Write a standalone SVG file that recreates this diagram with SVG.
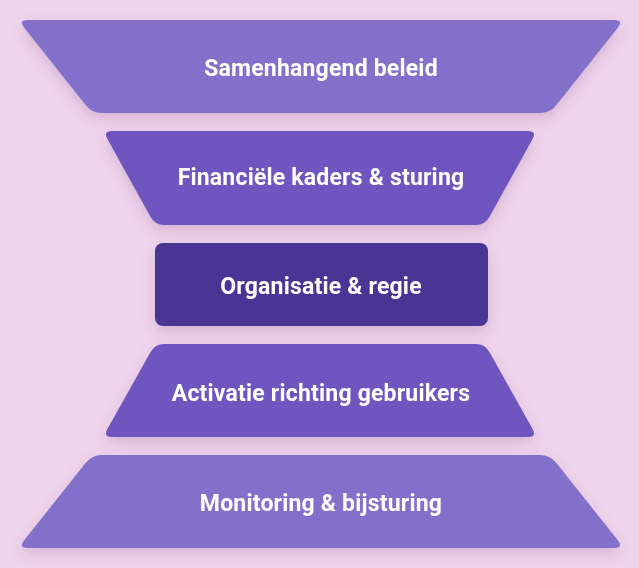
<svg xmlns="http://www.w3.org/2000/svg" width="639" height="568" viewBox="0 0 639 568">
<defs>
<filter id="sh" x="-20%" y="-30%" width="140%" height="170%">
<feDropShadow dx="0" dy="6" stdDeviation="7" flood-color="#7a3f80" flood-opacity="0.22"/>
</filter>
<style>
.t{font-family:Roboto,"Liberation Sans",sans-serif;font-weight:700;font-size:23px;letter-spacing:0.2px;fill:#ffffff;text-anchor:middle}
.l{fill:#8370CB}
.m{fill:#6E55C0}
.d{fill:#4A3494}
</style>
</defs>
<rect width="639" height="568" fill="#EFD5EC"/>
<g id="connectors"/>
<g id="n1" filter="url(#sh)">
<path class="l" d="M28,20 L614,20 Q624,20 617.8,27.8 L556.2,105.2 Q550,113 540,113 L102,113 Q92,113 85.8,105.2 L24.2,27.8 Q18,20 28,20 Z"/>
<text class="t" x="321" y="76">Samenhangend beleid</text>
</g>
<g id="n2" filter="url(#sh)">
<path class="m" d="M112,131 L528,131 Q537,131 532.6,138.9 L489.4,217.1 Q485,225 476,225 L164,225 Q155,225 150.6,217.1 L107.4,138.9 Q103,131 112,131 Z"/>
<text class="t" x="321" y="185">Financiële kaders &amp; sturing</text>
</g>
<g id="n3" filter="url(#sh)">
<rect class="d" x="155" y="243" width="333" height="83" rx="8"/>
<text class="t" x="321" y="294">Organisatie &amp; regie</text>
</g>
<g id="n4" filter="url(#sh)">
<path class="m" d="M164,344 L476,344 Q485,344 489.4,351.9 L532.6,429.1 Q537,437 528,437 L112,437 Q103,437 107.4,429.1 L150.6,351.9 Q155,344 164,344 Z"/>
<text class="t" x="321" y="401">Activatie richting gebruikers</text>
</g>
<g id="n5" filter="url(#sh)">
<path class="l" d="M102,455 L540,455 Q550,455 556.2,462.8 L617.8,540.2 Q624,548 614,548 L28,548 Q18,548 24.2,540.2 L85.8,462.8 Q92,455 102,455 Z"/>
<text class="t" x="321" y="511">Monitoring &amp; bijsturing</text>
</g>
</svg>
